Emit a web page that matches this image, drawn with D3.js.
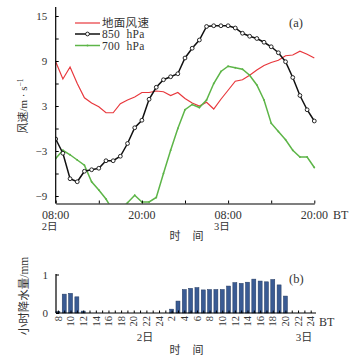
<!DOCTYPE html>
<html><head><meta charset="utf-8">
<script src="https://cdn.jsdelivr.net/npm/d3@7"></script>
<style>
body{margin:0;background:#fff}
svg{display:block}
text{font-family:"Liberation Serif","Noto Sans CJK SC",serif;fill:#333}
</style>
</head><body>
<svg id="c" width="355" height="358"></svg>
<script>
// ---------- data ----------
const hours = [0,1,2,3,4,5,6,7,8,9,10,11,12,13,14,15,16,17,18,19,20,21,22,23,24,25,26,27,28,29,30,31,32,33,34,35,36];
const surfaceWind = [8.9,6.6,8.2,6.0,4.1,3.4,2.9,2.1,2.1,3.3,3.8,4.2,4.8,4.8,5.0,4.9,4.4,4.8,4.0,3.4,3.0,3.5,2.6,3.9,5.1,6.3,6.5,7.1,7.8,8.4,8.8,9.1,9.7,9.8,10.3,9.9,9.4];
const wind850 = [-1.4,-3.3,-6.7,-7.1,-5.7,-5.5,-5.3,-4.3,-4.3,-3.7,-2.0,0.1,1.1,3.9,5.5,6.5,6.9,7.3,9.4,10.7,11.8,13.6,13.7,13.7,13.7,13.4,12.7,12.3,12.0,11.5,10.9,10.1,8.9,6.8,4.4,2.5,1.0];
const wind700 = [-4.0,-2.9,-3.5,-4.2,-4.9,-7.1,-8.2,-9.4,-11.0,-10.8,-9.9,-8.9,-9.8,-9.8,-9.2,-6.0,-2.9,0.0,2.5,3.2,2.8,3.8,6.0,7.6,8.3,8.1,7.9,7.1,5.8,3.8,0.7,-0.4,-1.5,-2.9,-3.8,-3.8,-5.2];
const seriesNames = ["地面风速","850 hPa","700 hPa"];
const topTickHours = [0,6,12,18,24,30,36];
const topTickLabels = {0:["08:00","2日"],12:["20:00",""],24:["08:00","3日"],36:["20:00",""]};
const topYTicks = [-9,-6,-3,0,3,6,9,12,15];
const topYLabels = [-9,-3,3,9,15];

const rainCats = ["2-8","2-9","2-10","2-11","2-12","2-13","2-14","2-15","2-16","2-17","2-18","2-19","2-20","2-21","2-22","2-23","2-24",
  "3-1","3-2","3-3","3-4","3-5","3-6","3-7","3-8","3-9","3-10","3-11","3-12","3-13","3-14","3-15","3-16","3-17","3-18","3-19","3-20","3-21","3-22","3-23","3-24"];
const rainValues = [0.04,0.49,0.51,0.42,0.05,0,0,0,0,0,0,0,0,0,0,0,0,
  0,0.10,0.31,0.61,0.64,0.66,0.60,0.61,0.61,0.61,0.70,0.79,0.77,0.80,0.88,0.83,0.81,0.87,0.73,0.44,0,0,0,0];
const rainYTicks = [0,1];

// ---------- drawing ----------
const svg = d3.select("#c");
const red = "#e8383d", green = "#5db548";

// top panel
const x = d3.scaleLinear().domain([0,36]).range([55.7,314.3]);
const y = d3.scaleLinear().domain([-10,16.2]).range([203.5,7]);
const topG = svg.append("g");
topG.append("clipPath").attr("id","clipTop").append("rect")
  .attr("x",55.7).attr("y",5).attr("width",280).attr("height",198.5);

const line = vals => d3.line().x((d,i)=>x(hours[i])).y(d=>y(d))(vals);
const plot = topG.append("g").attr("clip-path","url(#clipTop)");
plot.append("path").attr("d",line(surfaceWind)).attr("fill","none").attr("stroke",red).attr("stroke-width",1.2);
plot.append("path").attr("d",line(wind700)).attr("fill","none").attr("stroke",green).attr("stroke-width",1.5);
plot.selectAll(".g7").data(wind700).join("circle").attr("cx",(d,i)=>x(hours[i])).attr("cy",d=>y(d)).attr("r",0.9).attr("fill",green);
plot.append("path").attr("d",line(wind850)).attr("fill","none").attr("stroke","#111").attr("stroke-width",1.5);
plot.selectAll(".b8").data(wind850).join("circle").attr("cx",(d,i)=>x(hours[i])).attr("cy",d=>y(d)).attr("r",1.9)
  .attr("fill","#fff").attr("stroke","#111").attr("stroke-width",0.9);

// top axes
const yAx = d3.axisLeft(y).tickValues(topYTicks).tickSizeInner(-3).tickSizeOuter(0).tickPadding(8.5)
  .tickFormat(d=>topYLabels.includes(d)?d3.format("")(d):"");
const gy = topG.append("g").attr("transform","translate(55.7,0)").call(yAx);
gy.select(".domain").attr("d","M0,7V203.5").attr("stroke","#000").attr("stroke-width",1.2);
gy.selectAll(".tick line").attr("stroke","#000");
gy.selectAll(".tick text").attr("font-size",11).attr("fill","#333").attr("font-family",'"Liberation Serif",serif');

const xAx = d3.axisBottom(x).tickValues(topTickHours).tickSizeInner(-3).tickSizeOuter(0).tickFormat("");
const gx = topG.append("g").attr("transform","translate(0,203.5)").call(xAx);
gx.select(".domain").attr("stroke","#000").attr("stroke-width",1.2);
gx.selectAll(".tick line").attr("stroke","#000");
Object.keys(topTickLabels).forEach(h=>{
  const [t,d] = topTickLabels[h];
  topG.append("text").attr("x",x(+h)).attr("y",218.5).attr("text-anchor","middle").attr("font-size",12).text(t);
  if(d) topG.append("text").attr("x",x(+h)-14).attr("y",230).attr("font-size",10.5).text(d);
});
topG.append("text").attr("x",333).attr("y",218.5).attr("font-size",12).text("BT");
topG.append("text").attr("x",175).attr("y",240).attr("text-anchor","middle").attr("font-size",11).text("时");
topG.append("text").attr("x",198).attr("y",240).attr("text-anchor","middle").attr("font-size",11).text("间");
topG.append("text").attr("x",289).attr("y",27).attr("font-size",12.5).text("(a)");

const yl = topG.append("text").attr("transform","translate(27,106) rotate(-90)").attr("text-anchor","middle").attr("font-size",11);
yl.append("tspan").text("风速/m · s");
yl.append("tspan").attr("font-size",7.5).attr("dy",-4).text("−1");

// legend
const legY = [23,34,45.5];
const lg = topG.append("g");
seriesNames.forEach((n,i)=>{
  const c = i===0?red:(i===1?"#111":green);
  lg.append("line").attr("x1",75).attr("x2",100).attr("y1",legY[i]).attr("y2",legY[i]).attr("stroke",c).attr("stroke-width",i===0?1.2:1.5);
  if(i===1) lg.append("circle").attr("cx",87.5).attr("cy",legY[i]).attr("r",1.9).attr("fill","#fff").attr("stroke","#111").attr("stroke-width",0.9);
  if(i===2) lg.append("circle").attr("cx",87.5).attr("cy",legY[i]).attr("r",1).attr("fill",green);
  lg.append("text").attr("x",102).attr("y",legY[i]+4).attr("font-size",11.5).attr("letter-spacing",0.3)
    .style("white-space","pre").text(i===0?n:n.replace(" ","  "));
});

// bottom panel
const bx = d3.scalePoint().domain(rainCats).range([57.9,310.7]);
const by = d3.scaleLinear().domain([0,1]).range([313,274.5]);
const bot = svg.append("g");
const bw = 4;
bot.selectAll("rect.bar").data(rainValues).join("rect").attr("class","bar")
  .attr("x",(d,i)=>bx(rainCats[i])-bw/2).attr("width",bw)
  .attr("y",d=>by(d)).attr("height",d=>by(0)-by(d))
  .attr("fill","#3a5b94").attr("stroke","#22395f").attr("stroke-width",0.5);

const byAx = d3.axisLeft(by).tickValues(rainYTicks).tickSizeInner(-3).tickSizeOuter(0).tickPadding(8).tickFormat(d3.format("d"));
const gby = bot.append("g").attr("transform","translate(56,0)").call(byAx);
gby.select(".domain").attr("d","M0,274V313").attr("stroke","#000").attr("stroke-width",1.2);
gby.selectAll(".tick line").attr("stroke","#000");
gby.selectAll(".tick text").attr("font-size",11).attr("fill","#333").attr("font-family",'"Liberation Serif",serif');

const bxAx = d3.axisBottom(bx).tickSizeInner(-2.5).tickSizeOuter(0).tickFormat("");
const gbx = bot.append("g").attr("transform","translate(0,313)").call(bxAx);
gbx.select(".domain").attr("d","M56,0H316").attr("stroke","#000").attr("stroke-width",1.2);
gbx.selectAll(".tick line").attr("stroke","#000");
rainCats.forEach(c=>{
  const h = +c.split("-")[1];
  if(h%2===0){
    bot.append("text").attr("transform",`translate(${bx(c)},316) rotate(-90)`).attr("text-anchor","end")
      .attr("dy","0.35em").attr("font-size",10.5).text(h);
  }
});
bot.append("text").attr("x",319).attr("y",326).attr("font-size",12).text("BT");
bot.append("text").attr("x",145).attr("y",341).attr("text-anchor","middle").attr("font-size",11).text("2日");
bot.append("text").attr("x",304).attr("y",341).attr("text-anchor","middle").attr("font-size",11).text("3日");
bot.append("text").attr("x",175).attr("y",354).attr("text-anchor","middle").attr("font-size",11).text("时");
bot.append("text").attr("x",198).attr("y",354).attr("text-anchor","middle").attr("font-size",11).text("间");
bot.append("text").attr("x",289).attr("y",283).attr("font-size",12.5).text("(b)");
bot.append("text").attr("transform","translate(28,296) rotate(-90)").attr("text-anchor","middle").attr("font-size",11.5).text("小时降水量/mm");
</script>
</body></html>
